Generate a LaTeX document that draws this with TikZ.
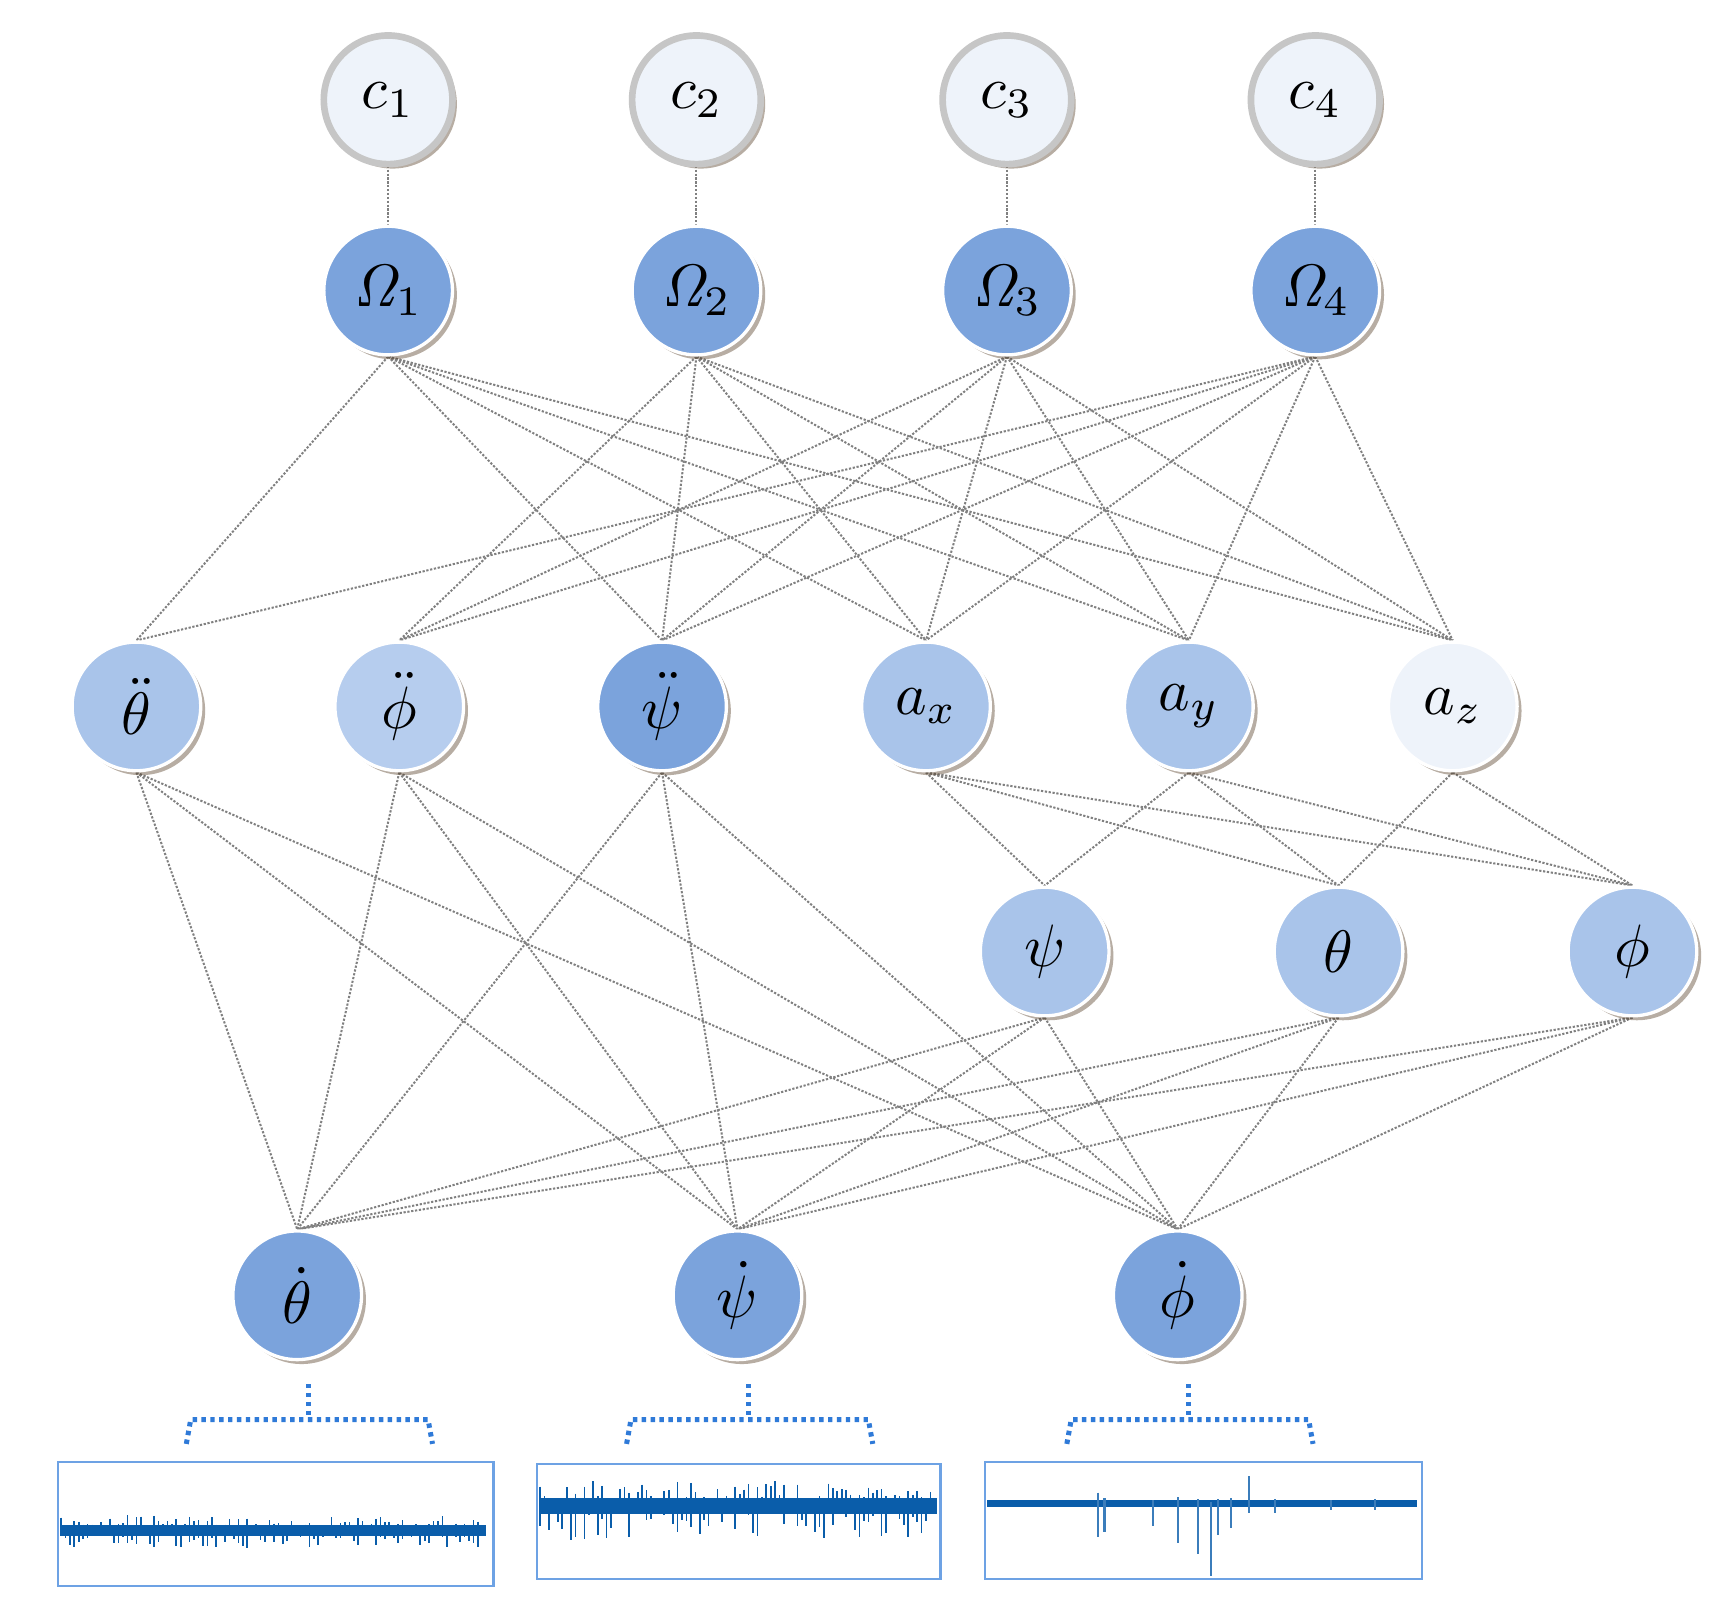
\documentclass[tikz,border=0pt]{standalone}
\usetikzlibrary{shadows}
\pgfdeclarelayer{bg}\pgfsetlayers{bg,main}
\newcommand{\nlab}[1]{\scalebox{5.4}{$#1$}}
\begin{document}
\begin{tikzpicture}[x=1pt,y=-1pt,
  nd/.style={circle,minimum size=116pt,inner sep=0pt,draw=white,line width=3pt,
    drop shadow={shadow xshift=4pt,shadow yshift=-4pt,opacity=0.4,fill=black!60!brown}},
  cn/.style={nd,fill=cL,draw=gray!45,line width=6pt},
  dk/.style={nd,fill=cD},
  md/.style={nd,fill=cM},
  ed/.style={gray,line width=1.8pt,dash pattern=on 2pt off 1.5pt},
  br/.style={cB,line width=4.5pt,dash pattern=on 4pt off 4pt},
  bx/.style={draw=cB!70,line width=2pt,fill=white}]
\definecolor{cL}{HTML}{EEF3FA}
\definecolor{cD}{HTML}{7BA3DC}
\definecolor{cM}{HTML}{A9C4EA}
\definecolor{cP}{HTML}{B6CDEE}
\definecolor{cB}{HTML}{2F7AD8}
\definecolor{cS}{HTML}{0A5DAA}
\useasboundingbox (0,0) rectangle (1560,1451);
% nodes
\foreach \i/\x in {1/350,2/628,3/908,4/1186}{
  \node[cn] (c\i) at (\x,90) {\nlab{c_{\i}}};
  \node[dk] (O\i) at (\x,262) {\nlab{\mathit{\Omega}_{\i}}};
}
\node[md] (tdd) at (123,637) {\nlab{\ddot\theta}};
\node[nd,fill=cP] (pdd) at (360,637) {\nlab{\ddot\phi}};
\node[dk] (sdd) at (597,637) {\nlab{\ddot\psi}};
\node[md] (ax) at (835,637) {\nlab{a_x}};
\node[md] (ay) at (1072,637) {\nlab{a_y}};
\node[nd,fill=cL] (az) at (1310,637) {\nlab{a_z}};
\node[md] (ps) at (942,858) {\nlab{\psi}};
\node[md] (th) at (1207,858) {\nlab{\theta}};
\node[md] (ph) at (1472,858) {\nlab{\phi}};
\node[dk] (td) at (268,1168) {\nlab{\dot\theta}};
\node[dk] (sd) at (665,1168) {\nlab{\dot\psi}};
\node[dk] (pd) at (1062,1168) {\nlab{\dot\phi}};
% edges (behind)
\begin{pgfonlayer}{bg}
\fill[white] (0,0) rectangle (1560,1451);
\foreach \i in {1,2,3,4} \draw[ed] (c\i.center) -- (O\i.center);
\foreach \a/\b in {O1/tdd,O1/sdd,O1/ax,O1/ay,O1/az,
  O2/pdd,O2/sdd,O2/ax,O2/ay,O2/az,
  O3/pdd,O3/sdd,O3/ax,O3/ay,O3/az,
  O4/tdd,O4/pdd,O4/sdd,O4/ax,O4/ay,O4/az,
  ax/ps,ax/th,ax/ph,ay/ps,ay/th,ay/ph,az/th,az/ph}
  \draw[ed] (\a.south) -- (\b.north);
\foreach \a in {tdd,pdd,sdd,ps,th,ph}
  \foreach \b in {td,sd,pd}
    \draw[ed] (\a.south) -- (\b.north);
\end{pgfonlayer}
% braces
\foreach \n/\x in {td/268,sd/665,pd/1062}{
  \coordinate (t\n) at (\x+10,1248);
  \coordinate (m\n) at (\x+10,1278);
  \draw[br] (t\n) -- (m\n);
  \draw[br] (\x-100,1302) -- (\x-96,1280) -- (\x+118,1280) -- (\x+122,1302);
}
% signal boxes
\pgfmathsetseed{7}
\draw[bx] (52,1318) rectangle (445,1430);
\draw[bx] (484,1320) rectangle (848,1424);
\draw[bx] (888,1318) rectangle (1282,1424);
\fill[cS] (54,1375) rectangle (438,1385);
\foreach \k in {0,...,95}{
  \pgfmathsetmacro\xx{55+\k*4}
  \pgfmathsetmacro\u{4+10*rnd^2}\pgfmathsetmacro\d{4+12*rnd^2}
  \draw[cS,line width=1.5pt] (\xx,1380-\u) -- (\xx,1380+\d);}
\fill[cS] (486,1351) rectangle (845,1365);
\foreach \k in {0,...,88}{
  \pgfmathsetmacro\xx{487+\k*4}
  \pgfmathsetmacro\u{5+18*rnd^2}\pgfmathsetmacro\d{5+26*rnd^3}
  \draw[cS,line width=1.5pt] (\xx,1358-\u) -- (\xx,1358+\d);}
\fill[cS] (890,1353) rectangle (1278,1359);
\foreach \k/\u/\d in {990/10/30,996/5/25,1040/3/20,1062/6/35,1080/4/45,1092/2/65,1098/4/28,1110/5/22,1126/25/8,1150/4/8,1200/3/6,1240/4/6}
  \draw[cS!80,line width=2pt] (\k,1356-\u) -- (\k,1356+\d);
\end{tikzpicture}
\end{document}
